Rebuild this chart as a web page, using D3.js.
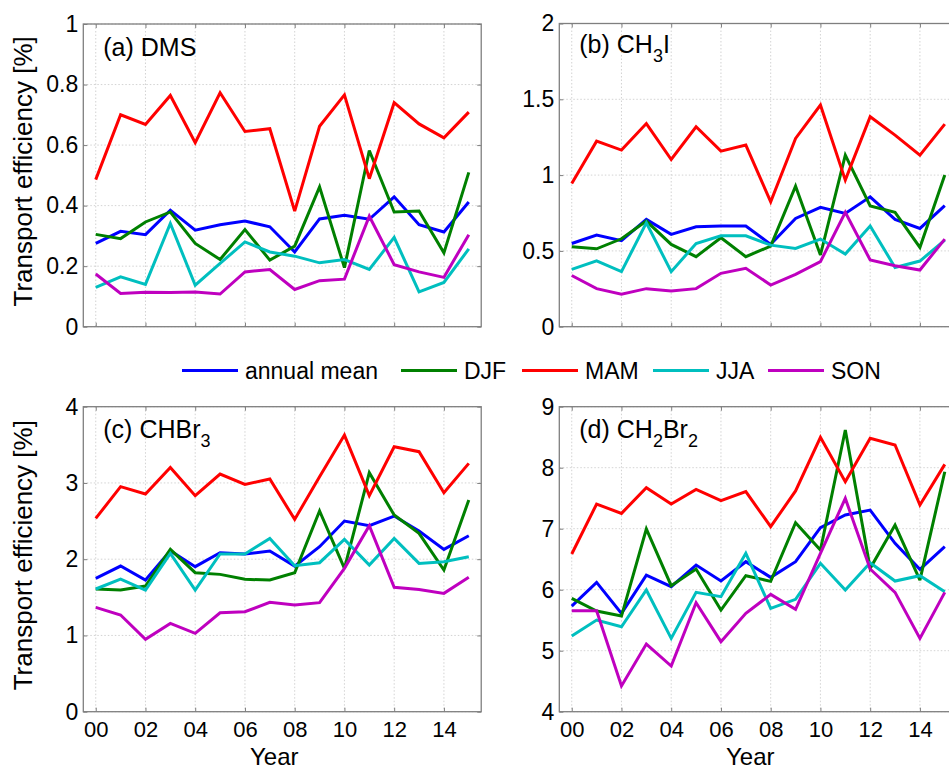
<!DOCTYPE html>
<html>
<head>
<meta charset="utf-8">
<script src="https://cdn.jsdelivr.net/npm/d3@7"></script>
<style>
  html, body { margin: 0; padding: 0; background: #fff; }
  svg { display: block; }
  text { font-family: "Liberation Sans", Arial, sans-serif; fill: #000; }
</style>
</head>
<body>
<svg id="chart" width="949" height="770"></svg>
<script>
// ---------------- DATA ----------------
const years = [0, 1, 2, 3, 4, 5, 6, 7, 8, 9, 10, 11, 12, 13, 14, 15];
const xTickValues = [0, 2, 4, 6, 8, 10, 12, 14];
const xTickLabels = ["00", "02", "04", "06", "08", "10", "12", "14"];

const seriesNames = ["annual mean", "DJF", "MAM", "JJA", "SON"];
const seriesColors = ["#0000ff", "#008000", "#ff0000", "#00bfbf", "#bf00bf"];

// (a) DMS
const dmsAnnual = [0.275, 0.315, 0.304, 0.385, 0.319, 0.337, 0.349, 0.330, 0.247, 0.356, 0.368, 0.355, 0.429, 0.337, 0.313, 0.412];
const dmsDJF    = [0.305, 0.291, 0.346, 0.379, 0.275, 0.222, 0.321, 0.220, 0.266, 0.462, 0.195, 0.582, 0.379, 0.382, 0.244, 0.510];
const dmsMAM    = [0.486, 0.700, 0.668, 0.764, 0.608, 0.773, 0.645, 0.654, 0.382, 0.662, 0.766, 0.489, 0.740, 0.670, 0.624, 0.709];
const dmsJJA    = [0.130, 0.165, 0.140, 0.341, 0.137, 0.209, 0.280, 0.247, 0.233, 0.211, 0.222, 0.189, 0.295, 0.115, 0.146, 0.257];
const dmsSON    = [0.174, 0.110, 0.114, 0.113, 0.115, 0.108, 0.181, 0.189, 0.123, 0.152, 0.157, 0.365, 0.205, 0.181, 0.163, 0.304];

// (b) CH3I
const ch3iAnnual = [0.549, 0.604, 0.567, 0.708, 0.609, 0.659, 0.664, 0.664, 0.543, 0.714, 0.787, 0.747, 0.857, 0.708, 0.648, 0.798];
const ch3iDJF    = [0.527, 0.514, 0.580, 0.697, 0.543, 0.462, 0.587, 0.462, 0.532, 0.927, 0.473, 1.132, 0.796, 0.754, 0.523, 1.000];
const ch3iMAM    = [0.945, 1.224, 1.165, 1.340, 1.103, 1.319, 1.158, 1.198, 0.824, 1.242, 1.462, 0.967, 1.385, 1.264, 1.132, 1.336];
const ch3iJJA    = [0.378, 0.435, 0.363, 0.686, 0.363, 0.549, 0.600, 0.600, 0.538, 0.516, 0.578, 0.479, 0.664, 0.391, 0.433, 0.571];
const ch3iSON    = [0.338, 0.251, 0.215, 0.251, 0.235, 0.251, 0.352, 0.385, 0.275, 0.345, 0.429, 0.754, 0.440, 0.402, 0.374, 0.578];

// (c) CHBr3
const chbr3Annual = [1.749, 1.910, 1.727, 2.111, 1.902, 2.085, 2.068, 2.107, 1.910, 2.164, 2.500, 2.440, 2.566, 2.369, 2.129, 2.308];
const chbr3DJF    = [1.609, 1.596, 1.648, 2.129, 1.823, 1.801, 1.736, 1.727, 1.823, 2.632, 1.880, 3.134, 2.579, 2.339, 1.858, 2.776];
const chbr3MAM    = [2.535, 2.951, 2.855, 3.204, 2.833, 3.117, 2.981, 3.051, 2.522, 3.082, 3.628, 2.833, 3.475, 3.410, 2.872, 3.257];
const chbr3JJA    = [1.609, 1.740, 1.596, 2.077, 1.596, 2.068, 2.068, 2.273, 1.915, 1.954, 2.260, 1.923, 2.273, 1.945, 1.967, 2.033];
const chbr3SON    = [1.368, 1.268, 0.949, 1.158, 1.027, 1.298, 1.311, 1.434, 1.399, 1.430, 1.880, 2.440, 1.631, 1.604, 1.552, 1.762];

// (d) CH2Br2
const ch2br2Annual = [5.732, 6.120, 5.612, 6.240, 6.049, 6.404, 6.142, 6.459, 6.202, 6.459, 7.016, 7.224, 7.306, 6.760, 6.333, 6.705];
const ch2br2DJF    = [5.858, 5.650, 5.568, 6.995, 6.066, 6.339, 5.667, 6.230, 6.137, 7.098, 6.650, 8.617, 6.350, 7.060, 6.158, 7.934];
const ch2br2MAM    = [6.585, 7.404, 7.251, 7.672, 7.404, 7.645, 7.459, 7.607, 7.033, 7.620, 8.497, 7.770, 8.481, 8.372, 7.388, 8.055];
const ch2br2JJA    = [5.240, 5.503, 5.393, 5.995, 5.202, 5.956, 5.885, 6.596, 5.694, 5.842, 6.432, 5.995, 6.443, 6.142, 6.230, 5.967];
const ch2br2SON    = [5.656, 5.656, 4.421, 5.109, 4.749, 5.787, 5.148, 5.612, 5.923, 5.678, 6.596, 7.497, 6.339, 5.956, 5.202, 5.956];

// y-axis domains and ticks
const dmsYDomain = [0, 1];       const dmsYTicks = [0, 0.2, 0.4, 0.6, 0.8, 1];
const ch3iYDomain = [0, 2];      const ch3iYTicks = [0, 0.5, 1, 1.5, 2];
const chbr3YDomain = [0, 4];     const chbr3YTicks = [0, 1, 2, 3, 4];
const ch2br2YDomain = [4, 9];    const ch2br2YTicks = [4, 5, 6, 7, 8, 9];

// titles: [text, isSubscript]
const titleA = [["(a) DMS", false]];
const titleB = [["(b) CH", false], ["3", true], ["I", false]];
const titleC = [["(c) CHBr", false], ["3", true]];
const titleD = [["(d) CH", false], ["2", true], ["Br", false], ["2", true]];

const yLabelText = "Transport efficiency [%]";
const xLabelText = "Year";

// ---------------- LAYOUT ----------------
const panels = [
  { left: 83.3, top: 24, bottom: 326.7, series: [dmsAnnual, dmsDJF, dmsMAM, dmsJJA, dmsSON],
    yDomain: dmsYDomain, yTicks: dmsYTicks, title: titleA, titleDy: 32, xLabels: false, yLabel: true },
  { left: 559.3, top: 23.5, bottom: 326.7, series: [ch3iAnnual, ch3iDJF, ch3iMAM, ch3iJJA, ch3iSON],
    yDomain: ch3iYDomain, yTicks: ch3iYTicks, title: titleB, titleDy: 29, xLabels: false, yLabel: false },
  { left: 83.3, top: 406.7, bottom: 711.7, series: [chbr3Annual, chbr3DJF, chbr3MAM, chbr3JJA, chbr3SON],
    yDomain: chbr3YDomain, yTicks: chbr3YTicks, title: titleC, titleDy: 31, xLabels: true, yLabel: true },
  { left: 559.3, top: 406.7, bottom: 711.7, series: [ch2br2Annual, ch2br2DJF, ch2br2MAM, ch2br2JJA, ch2br2SON],
    yDomain: ch2br2YDomain, yTicks: ch2br2YTicks, title: titleD, titleDy: 31, xLabels: true, yLabel: false }
];
const yearStep = 24.87;
const xDomain = [-0.5, 15.5];

const svg = d3.select("#chart");
const axisColor = "#7f7f7f";
const gridColor = "#c8c8c8";

panels.forEach(p => {
  const right = p.left + (xDomain[1] - xDomain[0]) * yearStep;
  const x = d3.scaleLinear().domain(xDomain).range([p.left, right]);
  const y = d3.scaleLinear().domain(p.yDomain).range([p.bottom, p.top]);
  const g = svg.append("g");

  // grid
  g.selectAll("line.vgrid").data(xTickValues).enter().append("line")
    .attr("x1", d => x(d)).attr("x2", d => x(d))
    .attr("y1", p.top).attr("y2", p.bottom)
    .attr("stroke", gridColor).attr("stroke-width", 0.8).attr("stroke-dasharray", "1.5,2");
  g.selectAll("line.hgrid").data(p.yTicks).enter().append("line")
    .attr("x1", p.left).attr("x2", right)
    .attr("y1", d => y(d)).attr("y2", d => y(d))
    .attr("stroke", gridColor).attr("stroke-width", 0.8).attr("stroke-dasharray", "1.5,2");

  // series lines
  const line = d3.line().x((d, i) => x(years[i])).y(d => y(d));
  p.series.forEach((s, k) => {
    g.append("path").datum(s)
      .attr("d", line)
      .attr("fill", "none")
      .attr("stroke", seriesColors[k])
      .attr("stroke-width", 3)
      .attr("stroke-linejoin", "miter")
      .attr("stroke-miterlimit", 3);
  });

  // axes via d3 axis (inward ticks)
  const xAxisB = d3.axisBottom(x).tickValues(xTickValues).tickSizeInner(-4).tickSizeOuter(0)
    .tickFormat((d, i) => p.xLabels ? xTickLabels[i] : "").tickPadding(10);
  const gx = g.append("g").attr("transform", `translate(0,${p.bottom})`).call(xAxisB);
  gx.select(".domain").remove();
  gx.selectAll(".tick line").attr("stroke", axisColor);
  gx.selectAll(".tick text").attr("font-size", 22).attr("font-family", "Liberation Sans, Arial, sans-serif")
    .attr("dy", "0.71em").attr("y", 10);

  const xAxisT = d3.axisTop(x).tickValues(xTickValues).tickSizeInner(-4).tickSizeOuter(0).tickFormat("");
  const gxt = g.append("g").attr("transform", `translate(0,${p.top})`).call(xAxisT);
  gxt.select(".domain").remove();
  gxt.selectAll(".tick line").attr("stroke", axisColor);

  const yAxisL = d3.axisLeft(y).tickValues(p.yTicks).tickSizeInner(-4).tickSizeOuter(0)
    .tickFormat(d3.format("~g")).tickPadding(10);
  const gy = g.append("g").attr("transform", `translate(${p.left},0)`).call(yAxisL);
  gy.select(".domain").remove();
  gy.selectAll(".tick line").attr("stroke", axisColor);
  gy.selectAll(".tick text").attr("font-size", 23).attr("font-family", "Liberation Sans, Arial, sans-serif")
    .attr("x", -5);

  const yAxisR = d3.axisRight(y).tickValues(p.yTicks).tickSizeInner(-4).tickSizeOuter(0).tickFormat("");
  const gyr = g.append("g").attr("transform", `translate(${right},0)`).call(yAxisR);
  gyr.select(".domain").remove();
  gyr.selectAll(".tick line").attr("stroke", axisColor);

  // box
  g.append("rect")
    .attr("x", p.left).attr("y", p.top)
    .attr("width", right - p.left).attr("height", p.bottom - p.top)
    .attr("fill", "none").attr("stroke", axisColor).attr("stroke-width", 1.3);

  // title
  const t = g.append("text")
    .attr("x", p.left + 20).attr("y", p.top + p.titleDy)
    .attr("font-size", 25);
  let shifted = false;
  p.title.forEach(([str, sub]) => {
    const ts = t.append("tspan").text(str);
    if (sub && !shifted) { ts.attr("dy", 9).attr("font-size", 18); shifted = true; }
    else if (!sub && shifted) { ts.attr("dy", -9); shifted = false; }
    else if (sub) { ts.attr("font-size", 18); }
  });

  // y label
  if (p.yLabel) {
    const cy = (p.top + p.bottom) / 2 - 4;
    g.append("text")
      .attr("transform", `translate(32,${cy}) rotate(-90)`)
      .attr("text-anchor", "middle")
      .attr("font-size", 26)
      .text(yLabelText);
  }
  // x label
  if (p.xLabels) {
    g.append("text")
      .attr("x", (p.left + right) / 2 - 8).attr("y", 764.5)
      .attr("text-anchor", "middle")
      .attr("font-size", 24)
      .text(xLabelText);
  }
});

// ---------------- LEGEND ----------------
const legendLineX = [182, 401, 522, 653, 768];
const legendY = 370.5;
const leg = svg.append("g");
seriesNames.forEach((name, i) => {
  leg.append("line")
    .attr("x1", legendLineX[i]).attr("x2", legendLineX[i] + 56)
    .attr("y1", legendY).attr("y2", legendY)
    .attr("stroke", seriesColors[i]).attr("stroke-width", 3);
  leg.append("text")
    .attr("x", legendLineX[i] + 63).attr("y", legendY + 8)
    .attr("font-size", 23)
    .text(name);
});
</script>
</body>
</html>
